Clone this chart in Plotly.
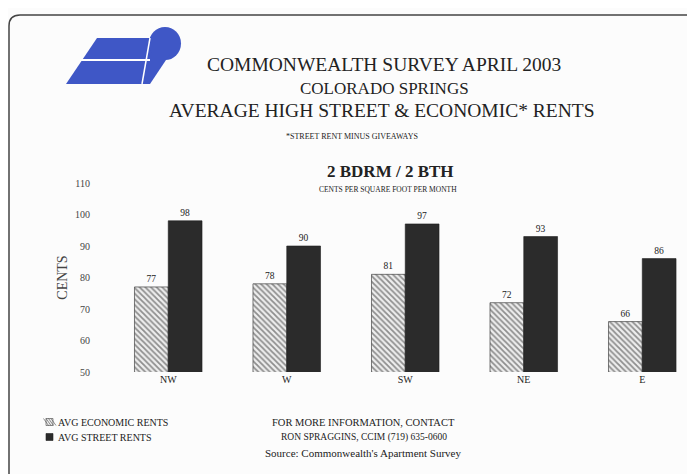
import plotly.graph_objects as go

categories = ["NW", "W", "SW", "NE", "E"]
economic_rents = [77, 78, 81, 72, 66]
street_rents = [98, 90, 97, 93, 86]
y_ticks = [50, 60, 70, 80, 90, 100, 110]

W, H = 695, 474
OFF = 8  # page body margin
# plot area in screen pixels
SX0, SX1, SY0, SY1 = 109, 695, 183, 372
L, R = SX0 - OFF, W - (SX1 - OFF)
T, B = SY0 - OFF, H - (SY1 - OFF)
PW, PH = SX1 - SX0, SY1 - SY0


def px(x):
    return (x - SX0) / PW


def py(y):
    return (SY1 - y) / PH


FONT = "Liberation Serif"
TXT = "#222222"

fig = go.Figure()
fig.add_trace(go.Bar(
    x=categories, y=economic_rents, name="AVG ECONOMIC RENTS",
    marker=dict(color="white", line=dict(color="#444", width=0.7),
                pattern=dict(shape="\\", fgcolor="#2e2e2e", bgcolor="#eeeeee", size=4, solidity=0.45)),
    text=economic_rents, textposition="outside",
    textfont=dict(family=FONT, size=9.5, color=TXT), cliponaxis=False,
))
fig.add_trace(go.Bar(
    x=categories, y=street_rents, name="AVG STREET RENTS",
    marker=dict(color="#2b2b2b", line=dict(color="#1e1e1e", width=0.6)),
    text=street_rents, textposition="outside",
    textfont=dict(family=FONT, size=9.5, color=TXT), cliponaxis=False,
))

fig.update_layout(
    width=W, height=H, margin=dict(l=L, r=R, t=T, b=B),
    paper_bgcolor="#fcfcfc", plot_bgcolor="rgba(0,0,0,0)",
    barmode="group", bargap=0.43, bargroupgap=0,
    font=dict(family=FONT, color=TXT),
    showlegend=False,
    xaxis=dict(range=[-0.5, 4.445], showline=False, showgrid=False, ticks="",
               tickfont=dict(family=FONT, size=10, color=TXT)),
    yaxis=dict(range=[50, 110], tickvals=y_ticks, showline=False, showgrid=False,
               zeroline=False, ticks="", ticklabelstandoff=18,
               tickfont=dict(family=FONT, size=10, color="#444"),
               title=dict(text="CENTS", font=dict(family=FONT, size=14, color="#444"), standoff=4)),
)

# frame
fig.add_shape(type="path", xref="paper", yref="paper",
              path=f"M {px(705)},{py(15)} L {px(20)},{py(15)} Q {px(9)},{py(15)} {px(9)},{py(26)} "
                   f"L {px(9)},{py(490)}",
              line=dict(color="#444", width=1.5))

# logo
blue = "#3f57c6"
fig.add_shape(type="path", xref="paper", yref="paper",
              path=f"M {px(66)},{py(84)} L {px(97)},{py(38)} L {px(162)},{py(38)} L {px(140)},{py(84)} Z",
              fillcolor=blue, line=dict(width=0))
fig.add_shape(type="circle", xref="paper", yref="paper",
              x0=px(149), x1=px(181), y0=py(27), y1=py(60),
              fillcolor=blue, line=dict(width=0))
fig.add_shape(type="path", xref="paper", yref="paper",
              path=f"M {px(150)},{py(54)} L {px(170)},{py(54)} L {px(150)},{py(84)} L {px(138)},{py(84)} Z",
              fillcolor=blue, line=dict(width=0))
fig.add_shape(type="line", xref="paper", yref="paper",
              x0=px(80), x1=px(150), y0=py(60), y1=py(60), line=dict(color="white", width=2))
fig.add_shape(type="line", xref="paper", yref="paper",
              x0=px(150), x1=px(142), y0=py(38), y1=py(84), line=dict(color="white", width=1.5))

texts = [
    ("COMMONWEALTH SURVEY APRIL 2003", 384, 65, 19.5),
    ("COLORADO SPRINGS", 384, 88, 17),
    ("AVERAGE HIGH STREET &amp; ECONOMIC* RENTS", 382, 110, 19.5),
    ("*STREET RENT MINUS GIVEAWAYS", 352, 136, 8),
    ("<b>2 BDRM / 2 BTH</b>", 390, 171, 17),
    ("CENTS PER SQUARE FOOT PER MONTH", 388, 189, 7.5),
    ("FOR MORE INFORMATION, CONTACT", 363, 422, 10.5),
    ("RON SPRAGGINS, CCIM (719) 635-0600", 364, 437, 9.5),
    ("Source: Commonwealth's Apartment Survey", 363, 453, 11),
]
for t, x, y, s in texts:
    fig.add_annotation(text=t, xref="paper", yref="paper", x=px(x), y=py(y),
                       xanchor="center", yanchor="middle", showarrow=False,
                       font=dict(family=FONT, size=s, color=TXT))

# legend (drawn manually)
legend_items = [("AVG ECONOMIC RENTS", 422, True), ("AVG STREET RENTS", 437, False)]
for label, y, hatched in legend_items:
    x0, x1, y0, y1 = 46, 53, y - 3.5, y + 3.5
    if hatched:
        fig.add_shape(type="rect", xref="paper", yref="paper",
                      x0=px(x0), x1=px(x1), y0=py(y0), y1=py(y1),
                      fillcolor="#eeeeee", line=dict(color="#444", width=0.6))
        for k in range(-1, 3):
            fig.add_shape(type="line", xref="paper", yref="paper",
                          x0=px(x0 + 2.5 * k), x1=px(x0 + 2.5 * k + 5), y0=py(y0), y1=py(y1),
                          line=dict(color="#444", width=0.6))
    else:
        fig.add_shape(type="rect", xref="paper", yref="paper",
                      x0=px(x0), x1=px(x1), y0=py(y0), y1=py(y1),
                      fillcolor="#2b2b2b", line=dict(color="#222", width=0.6))
    fig.add_annotation(text=label, xref="paper", yref="paper", x=px(56), y=py(y),
                       xanchor="left", yanchor="middle", showarrow=False,
                       font=dict(family=FONT, size=10, color=TXT))

fig.write_html("out.html")
